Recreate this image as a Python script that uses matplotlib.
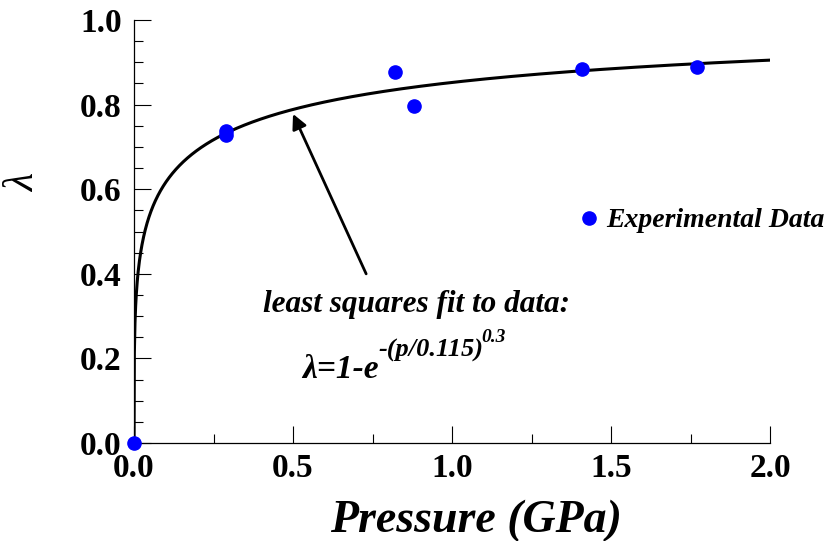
import numpy as np
import matplotlib.pyplot as plt
from matplotlib.ticker import MultipleLocator
from matplotlib.transforms import offset_copy

# ------------------------- DATA ------------------------------------------- #
pressure = [0.0, 0.29, 0.29, 0.82, 0.88, 1.41, 1.77]        # GPa
lam      = [0.0, 0.737, 0.729, 0.877, 0.797, 0.884, 0.889]

p0, beta = 0.115, 0.3        # fit parameters shown in the chart
x_max = 2.0

# ------------------------- STYLE ------------------------------------------ #
plt.rcParams["font.family"] = ["Liberation Serif", "DejaVu Serif"]
plt.rcParams["font.weight"] = "bold"
bi = dict(fontstyle="italic", fontweight="bold")

fig = plt.figure(figsize=(8.31, 5.41), dpi=100)
ax = fig.add_axes([0.1613, 0.181, 0.7653, 0.782])

# fit curve  λ = 1 - exp(-(p/p0)^beta)
p = np.linspace(0, x_max, 2000)
fit = 1 - np.exp(-(p / p0) ** beta)
ax.plot(p, fit, color="black", lw=2.2, zorder=2)

ax.plot(pressure, lam, "o", color="#0000ff", ms=9.5, ls="none",
        label="Experimental Data", zorder=3, clip_on=False)

ax.set_xlim(0, 2.0)
ax.set_ylim(0, 1.0)
ax.xaxis.set_major_locator(MultipleLocator(0.5))
ax.xaxis.set_minor_locator(MultipleLocator(0.25))
ax.yaxis.set_major_locator(MultipleLocator(0.2))
ax.yaxis.set_minor_locator(MultipleLocator(0.05))
ax.xaxis.set_major_formatter(lambda v, pos: f"{v:.1f}")
ax.yaxis.set_major_formatter(lambda v, pos: f"{v:.1f}")

for s in ("top", "right"):
    ax.spines[s].set_visible(False)
for s in ("left", "bottom"):
    ax.spines[s].set_linewidth(0.9)

ax.tick_params(which="major", direction="in", length=12, width=0.8,
               labelsize=24, pad=9)
ax.tick_params(which="minor", direction="in", length=6.5, width=0.8)
ax.tick_params(axis="x", pad=7)

ax.set_xlabel("Pressure (GPa)", fontsize=33, **bi)
ax.xaxis.label.set_va("baseline")
ax.xaxis.set_label_coords(0.538, -0.21)
ax.set_ylabel("λ", fontsize=30, fontstyle="italic", fontweight="normal")
ax.yaxis.set_label_coords(-0.143, 0.614)

# annotation
ax.annotate("", xy=(0.5, 0.778), xytext=(0.73, 0.40),
            arrowprops=dict(arrowstyle="-|>", color="black", lw=2,
                            mutation_scale=22, shrinkA=0, shrinkB=0))
ax.text(0.887, 0.309, "least squares fit to data:", fontsize=22.5,
        ha="center", va="baseline", **bi)

# formula  λ=1-e^{-(p/0.115)^{0.3}}  built from three pieces
r = fig.canvas.get_renderer()
fx, fy = 0.528, 0.153
t1 = ax.text(fx, fy, "λ=1-e", fontsize=24, ha="left", va="baseline", **bi)
w1 = t1.get_window_extent(r).width
t2 = ax.text(fx, fy, f"-(p/{p0})", fontsize=19, ha="left", va="baseline",
             transform=offset_copy(ax.transData, fig, x=w1, y=22, units="dots"),
             **bi)
w2 = t2.get_window_extent(r).width
ax.text(fx, fy, f"{beta}", fontsize=14, ha="left", va="baseline",
        transform=offset_copy(ax.transData, fig, x=w1 + w2 - 2, y=36,
                              units="dots"),
        **bi)

leg = ax.legend(loc="center left", bbox_to_anchor=(0.705, 0.526),
                frameon=False, handlelength=0.5, handletextpad=0.35,
                borderpad=0, borderaxespad=0,
                prop=dict(family="Liberation Serif", size=20,
                          style="italic", weight="bold"))

fig.savefig("out.png", dpi=100)
